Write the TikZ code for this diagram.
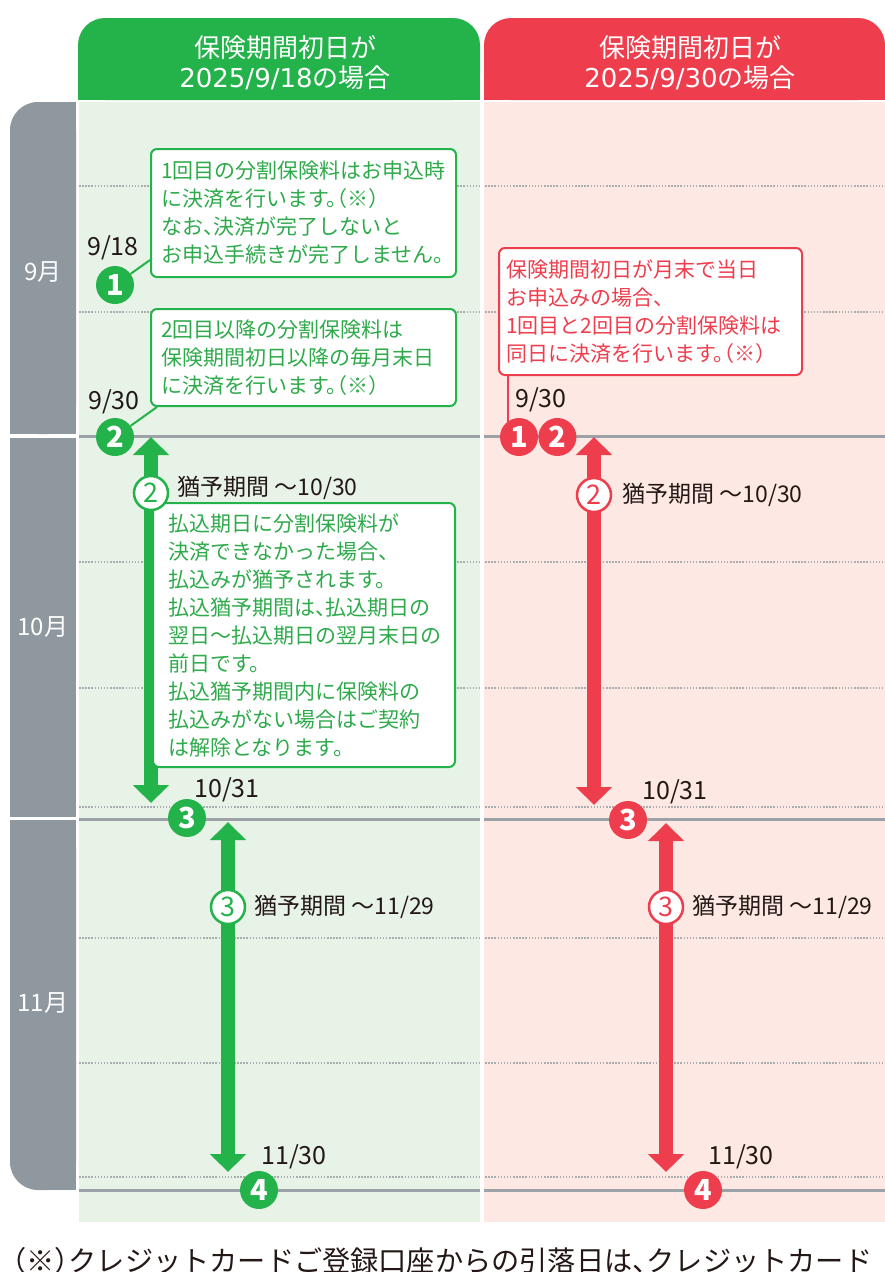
\documentclass[tikz,border=0pt]{standalone}
\usepackage{fontspec}
\setmainfont{Noto Sans CJK JP}[RawFeature=+halt]
\newfontfamily\digitfont{DejaVu Sans}
\usetikzlibrary{arrows.meta,positioning}
\definecolor{gcol}{HTML}{24B24B}
\definecolor{rcol}{HTML}{EE3E4D}
\definecolor{gbg}{HTML}{E7F3E7}
\definecolor{rbg}{HTML}{FDE8E3}
\definecolor{mgray}{HTML}{8F989F}
\definecolor{lgray}{HTML}{9CA2A7}
\definecolor{dgray}{HTML}{A9ADB0}
\definecolor{ink}{HTML}{231815}
\definecolor{gtxt}{HTML}{2EAA4B}

\begin{document}
\begin{tikzpicture}[x = 1pt, y = -1pt,
   num/.style = {circle, minimum size = 38pt, inner sep = 0pt, text = white, font = \fontsize{29}{29}\selectfont\bfseries},
   ring/.style = {circle, minimum size = 34pt, inner sep = 0pt, fill = white, line width = 2.5pt, font = \fontsize{27}{27}\selectfont},
   note/.style = {draw, line width = 2pt, fill = white, rounded corners = 6pt, anchor = north west, align = left, inner xsep = 10pt, font = \fontsize{21}{28}\selectfont},
   day/.style = {text = ink, inner sep = 0pt, font = \fontsize{25}{25}\selectfont},
   grace/.style = {text = ink, inner sep = 0pt, font = \fontsize{23}{23}\selectfont},
   month/.style = {text = white, font = \fontsize{24}{24}\selectfont},
   head/.style = {text = white, align = center, font = \fontsize{26}{30}\selectfont},
   period/.style = {line width = 14pt, {Triangle[width = 35pt, length = 18pt]}-{Triangle[width = 35pt, length = 18pt]}},
   dayline/.style = {dgray, line width = 1.2pt, dash pattern = on 1.5pt off 1.6pt},
   monthline/.style = {lgray, line width = 3pt}]
   \useasboundingbox (0,0) rectangle (885,1272);
   \fill[gbg] (79,102) rectangle (480,1222);
   \fill[rbg] (484,102) rectangle (885,1222);
   \fill[gcol, rounded corners = 27pt] (78,18) rectangle (480,100);
   \fill[gcol] (78,60) rectangle (480,100);
   \fill[rcol, rounded corners = 27pt] (484,18) rectangle (885,100);
   \fill[rcol] (484,60) rectangle (885,100);
   \node[head] (head_g) at (285,63) {保険期間初日が\\{\digitfont 2025/9/18}の場合};
   \node[head] (head_r) at (690,63) {保険期間初日が\\{\digitfont 2025/9/30}の場合};
   \fill[mgray, rounded corners = 28pt] (10,102) rectangle (76,434);
   \fill[mgray] (10,200) rectangle (76,434);
   \fill[mgray] (40,102) rectangle (76,200);
   \fill[mgray] (10,438) rectangle (76,817);
   \fill[mgray, rounded corners = 28pt] (10,820) rectangle (76,1190);
   \fill[mgray] (10,820) rectangle (76,1100);
   \fill[mgray] (40,1100) rectangle (76,1190);
   \node[month] (m_9) at (43,272) {9月};
   \node[month] (m_10) at (43,627) {10月};
   \node[month] (m_11) at (43,1003) {11月};
   \foreach \y in {186,312,562,688,807,938,1063,1177}
      \draw[dayline] (79,\y) -- (885,\y);
   \foreach \y in {436,819,1190}
      \draw[monthline] (79,\y) -- (885,\y);
   \fill[white] (480,100) rectangle (484,1222);
   \coordinate (g_s2) at (151,437);
   \coordinate (g_e2) at (151,803);
   \coordinate (g_s3) at (228,822);
   \coordinate (g_e3) at (228,1172);
   \coordinate (r_s2) at (594,437);
   \coordinate (r_e2) at (594,805);
   \coordinate (r_s3) at (666,823);
   \coordinate (r_e3) at (666,1172);
   \draw[period, gcol] (g_s2) -- (g_e2);
   \draw[period, gcol] (g_s3) -- (g_e3);
   \draw[period, rcol] (r_s2) -- (r_e2);
   \draw[period, rcol] (r_s3) -- (r_e3);
   \node[note, draw = gcol, text = gtxt, text width = 285pt, minimum height = 128pt] (note_1) at (150,148) {1回目の分割保険料はお申込時\\に決済を行います。（※）\\なお、決済が完了しないと\\お申込手続きが完了しません。};
   \node[note, draw = gcol, text = gtxt, text width = 285pt, minimum height = 97pt] (note_2) at (150,308) {2回目以降の分割保険料は\\保険期間初日以降の毎月末日\\に決済を行います。（※）};
   \node[note, draw = gcol, text = gtxt, text width = 272pt, inner xsep = 15pt, minimum height = 264pt] (note_3) at (152,502) {払込期日に分割保険料が\\決済できなかった場合、\\払込みが猶予されます。\\払込猶予期間は、払込期日の\\翌日～払込期日の翌月末日の\\前日です。\\払込猶予期間内に保険料の\\払込みがない場合はご契約\\は解除となります。};
   \node[note, draw = rcol, text = rcol, text width = 289pt, inner xsep = 7pt, minimum height = 127pt] (note_r) at (498,247) {保険期間初日が月末で当日\\お申込みの場合、\\1回目と2回目の分割保険料は\\同日に決済を行います。（※）};
   \node[num, fill = gcol] (g_1) at (115,285) {1};
   \node[num, fill = gcol] (g_2) at (115,437) {2};
   \node[num, fill = gcol] (g_3) at (187,818) {3};
   \node[num, fill = gcol] (g_4) at (259,1190) {4};
   \node[num, fill = rcol] (r_1) at (519,437) {1};
   \node[num, fill = rcol] (r_2) [right = 0pt of r_1] {2};
   \node[num, fill = rcol] (r_3) at (628,820) {3};
   \node[num, fill = rcol] (r_4) at (703,1190) {4};
   \node[ring, draw = gcol, text = gcol] (gg_2) at (151,493) {2};
   \node[ring, draw = gcol, text = gcol] (gg_3) at (228,907) {3};
   \node[ring, draw = rcol, text = rcol] (rg_2) at (594,495) {2};
   \node[ring, draw = rcol, text = rcol] (rg_3) at (666,907) {3};
   \node[grace, right = 8pt of gg_2, yshift = 5pt] (gl_2) {猶予期間 ～10/30};
   \node[grace, right = 8pt of gg_3] (gl_3) {猶予期間 ～11/29};
   \node[grace, right = 10pt of rg_2] (rl_2) {猶予期間 ～10/30};
   \node[grace, right = 8pt of rg_3] (rl_3) {猶予期間 ～11/29};
   \node[day] (d_g1) at (113,248) {9/18};
   \node[day] (d_g2) at (114,402) {9/30};
   \node[day] (d_g3) at (227,790) {10/31};
   \node[day] (d_g4) at (294,1157) {11/30};
   \node[day] (d_r2) at (541,400) {9/30};
   \node[day] (d_r3) at (675,792) {10/31};
   \node[day] (d_r4) at (741,1157) {11/30};
   \coordinate (r_foot) at ([xshift = 10pt]note_r.south west);
   \draw[gcol, line width = 2pt] (g_1) -- ([yshift = 18pt]note_1.south west);
   \draw[gcol, line width = 2pt] (g_2) -- ([xshift = 7pt]note_2.south west);
   \draw[rcol, line width = 2pt] (r_foot) -- (r_foot |- r_1.north west);
   \node[anchor = base west, inner sep = 0pt, text = ink, font = \fontsize{28.2}{28.2}\selectfont] (foot) at (12,1271) {（※）クレジットカードご登録口座からの引落日は、クレジットカード};
\end{tikzpicture}
\end{document}
